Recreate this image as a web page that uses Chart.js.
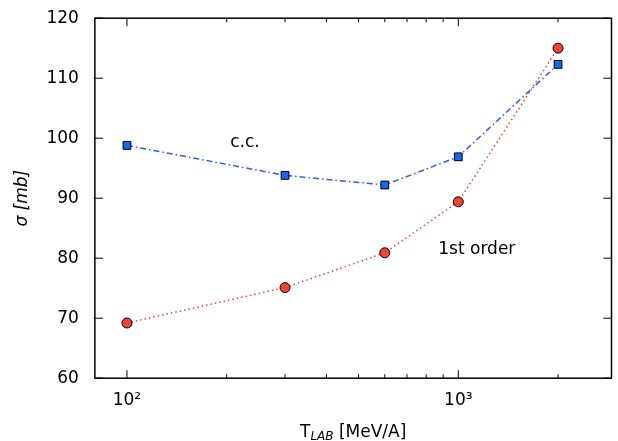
<!DOCTYPE html>
<html>
<head>
<script src="https://cdn.jsdelivr.net/npm/chart.js@4"></script>
<style>
body { margin: 0; background: #fff; }
#wrap { width: 618px; height: 441px; }
</style>
</head>
<body>
<div id="wrap"><canvas id="c"></canvas></div>
<script>
const energies = [100, 300, 600, 1000, 2000];
const ccValues = [98.8, 93.8, 92.2, 96.9, 112.3];
const firstOrderValues = [69.2, 75.1, 80.9, 89.4, 115.0];
const yTicks = [60, 70, 80, 90, 100, 110, 120];
const xMajor = [100, 1000];
const xMinor = [200, 300, 400, 500, 600, 700, 800, 900, 2000];

const font = "DejaVu Sans";

const tickPlugin = {
    id: 'ticks',
    afterDraw(chart) {
        const { ctx, chartArea: a, scales } = chart;
        const x = scales.x, y = scales.y;
        ctx.save();
        ctx.strokeStyle = '#000';
        ctx.lineWidth = 1;
        const line = (x1, y1, x2, y2) => { ctx.beginPath(); ctx.moveTo(x1, y1); ctx.lineTo(x2, y2); ctx.stroke(); };
        xMajor.forEach(v => { const p = x.getPixelForValue(v); line(p, a.bottom, p, a.bottom - 8); line(p, a.top, p, a.top + 8); });
        xMinor.forEach(v => { const p = x.getPixelForValue(v); line(p, a.bottom, p, a.bottom - 4); line(p, a.top, p, a.top + 4); });
        yTicks.forEach(v => { const p = y.getPixelForValue(v); line(a.left, p, a.left + 8, p); line(a.right, p, a.right - 8, p); });
        ctx.lineWidth = 1.5;
        ctx.strokeRect(a.left, a.top, a.right - a.left, a.bottom - a.top);

        ctx.fillStyle = '#000';
        ctx.font = '17px ' + font;
        ctx.textBaseline = 'middle';
        ctx.textAlign = 'left';
        ctx.fillText('c.c.', x.getPixelForValue(205), y.getPixelForValue(99.2));
        ctx.fillText('1st order', x.getPixelForValue(870), y.getPixelForValue(81.5));

        // x-axis title with subscript
        ctx.textBaseline = 'alphabetic';
        const cx = (a.left + a.right) / 2;
        const by = 437;
        const t1 = 'T', sub = 'LAB', t2 = ' [MeV/A]';
        ctx.font = '17px ' + font; const w1 = ctx.measureText(t1).width;
        ctx.font = 'italic 12px ' + font; const ws = ctx.measureText(sub).width;
        ctx.font = '17px ' + font; const w2 = ctx.measureText(t2).width;
        let sx = cx - (w1 + ws + w2) / 2;
        ctx.fillText(t1, sx, by); sx += w1;
        ctx.font = 'italic 12px ' + font; ctx.fillText(sub, sx, by + 3); sx += ws;
        ctx.font = '17px ' + font; ctx.fillText(t2, sx, by);
        ctx.restore();
    }
};

new Chart(document.getElementById('c'), {
    type: 'line',
    data: {
        datasets: [
            {
                label: 'c.c.',
                data: energies.map((e, i) => ({ x: e, y: ccValues[i] })),
                borderColor: '#2a5cf0',
                borderWidth: 1.5,
                borderDash: [6, 3, 1.5, 3],
                pointStyle: 'rect',
                pointRadius: 5.5,
                pointBackgroundColor: '#1a66ee',
                pointBorderColor: '#000',
                pointBorderWidth: 1
            },
            {
                label: '1st order',
                data: energies.map((e, i) => ({ x: e, y: firstOrderValues[i] })),
                borderColor: '#f04030',
                borderWidth: 1.5,
                borderDash: [1.5, 3],
                pointStyle: 'circle',
                pointRadius: 5,
                pointBackgroundColor: '#ee4433',
                pointBorderColor: '#000',
                pointBorderWidth: 1
            }
        ]
    },
    options: {
        responsive: true,
        maintainAspectRatio: false,
        animation: false,
        layout: { padding: { top: 17, right: 0, bottom: 0, left: 8 } },
        plugins: { legend: { display: false }, tooltip: { enabled: false } },
        scales: {
            x: {
                type: 'logarithmic',
                min: 80,
                max: 2900,
                afterBuildTicks: s => { s.ticks = xMajor.map(v => ({ value: v })); },
                grid: { display: false },
                border: { display: false },
                ticks: {
                    font: { family: font, size: 17 },
                    color: '#000',
                    padding: 4,
                    callback: v => v === 100 ? '10²' : '10³'
                },
                title: { display: true, text: ' ', font: { size: 17 }, padding: { top: 4, bottom: 2 } }
            },
            y: {
                min: 60,
                max: 120,
                afterBuildTicks: s => { s.ticks = yTicks.map(v => ({ value: v })); },
                grid: { display: false },
                border: { display: false },
                ticks: { font: { family: font, size: 17 }, color: '#000', padding: 8 },
                title: { display: true, text: 'σ [mb]', font: { family: font, size: 17, style: 'italic' }, color: '#000', padding: { bottom: 6 } }
            }
        }
    },
    plugins: [tickPlugin]
});
</script>
</body>
</html>
